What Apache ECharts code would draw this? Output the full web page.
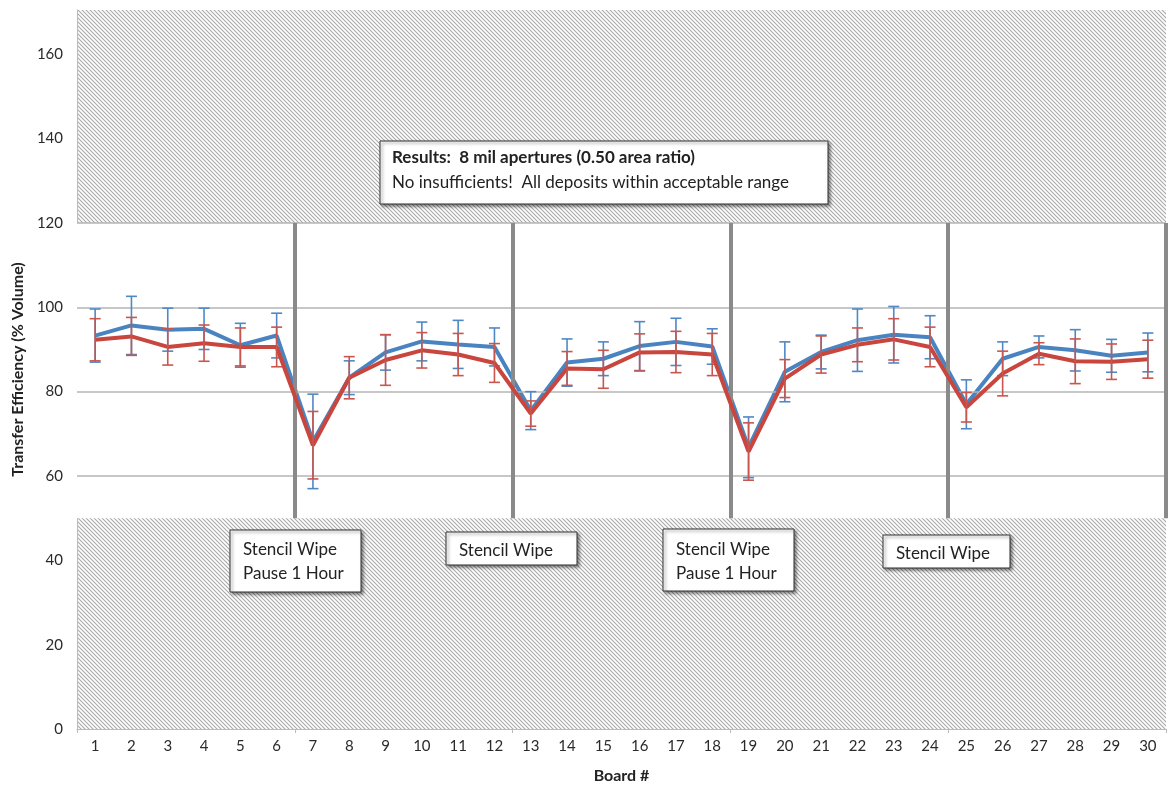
<!DOCTYPE html>
<html>
<head>
<meta charset="utf-8">
<script src="https://cdn.jsdelivr.net/npm/echarts@6/dist/echarts.min.js"></script>
<style>html,body{margin:0;padding:0;background:#fff;}#c{width:1170px;height:789px;}</style>
</head>
<body>
<div id="c"></div>
<script>
const boards = ['1','2','3','4','5','6','7','8','9','10','11','12','13','14','15','16','17','18','19','20','21','22','23','24','25','26','27','28','29','30'];
const blueMean = [93.3, 95.7, 94.7, 94.9, 91.0, 93.3, 68.2, 83.3, 89.3, 91.9, 91.2, 90.6, 75.5, 86.9, 87.8, 90.8, 91.8, 90.7, 66.8, 84.7, 89.4, 92.2, 93.5, 92.9, 77.0, 87.8, 90.6, 89.8, 88.5, 89.3];
const redMean  = [92.3, 93.1, 90.6, 91.5, 90.6, 90.6, 67.3, 83.3, 87.5, 89.8, 88.8, 86.8, 74.8, 85.5, 85.3, 89.3, 89.4, 88.8, 65.8, 83.1, 88.8, 91.1, 92.4, 90.6, 76.3, 84.3, 89.0, 87.2, 87.1, 87.7];
const blueErr  = [6.3, 6.9, 5.1, 4.9, 5.2, 5.3, 11.2, 4.0, 4.2, 4.6, 5.7, 4.5, 4.5, 5.6, 4.0, 5.8, 5.6, 4.2, 7.2, 7.1, 4.0, 7.4, 6.7, 5.1, 5.8, 4.0, 2.6, 4.9, 3.9, 4.6];
const redErr   = [5.0, 4.5, 4.3, 4.3, 4.5, 4.7, 8.0, 5.0, 6.0, 4.2, 5.0, 4.6, 3.0, 4.0, 4.5, 4.4, 4.9, 5.0, 6.8, 4.5, 4.4, 4.0, 4.9, 4.7, 3.5, 5.3, 2.6, 5.3, 4.2, 4.5];
const yTicks = [0, 20, 40, 60, 80, 100, 120, 140, 160];
const gridValues = [60, 80, 100, 120];
const separators = [6.5, 12.5, 18.5, 24.5, 30.5];
const bandLow = 50, bandHigh = 120;

const FONT = 'Lato, "Open Sans", sans-serif';

// hatch pattern
const pc = document.createElement('canvas');
pc.width = 4; pc.height = 4;
const g = pc.getContext('2d');
g.fillStyle = '#ffffff'; g.fillRect(0,0,4,4);
g.strokeStyle = '#a8a8a8'; g.lineWidth = 1.1;
g.beginPath();
g.moveTo(-1,-1); g.lineTo(5,5);
g.moveTo(-1,3); g.lineTo(1,5);
g.moveTo(3,-1); g.lineTo(5,1);
g.stroke();

function errData(mean, err){ return mean.map((m,i)=>[i, m-err[i], m+err[i]]); }
function errRender(color){
  return function(params, api){
    const x = api.value(0);
    const hi = api.coord([x, api.value(2)]);
    const lo = api.coord([x, api.value(1)]);
    const w = 5.5;
    const st = {stroke: color, lineWidth: 1.6};
    return {type:'group', children:[
      {type:'line', shape:{x1:hi[0],y1:hi[1],x2:lo[0],y2:lo[1]}, style:st},
      {type:'line', shape:{x1:hi[0]-w,y1:hi[1],x2:hi[0]+w,y2:hi[1]}, style:st},
      {type:'line', shape:{x1:lo[0]-w,y1:lo[1],x2:lo[0]+w,y2:lo[1]}, style:st}
    ]};
  };
}

const BLUE = '#4a84c0', RED = '#c8463e';

const boxStyle = {fill:'#fff', stroke:'#333', lineWidth:1, shadowBlur:3, shadowColor:'rgba(0,0,0,0.45)', shadowOffsetX:2, shadowOffsetY:2};
function box(x,y,w,h){ return {type:'rect', shape:{x:x,y:y,width:w,height:h}, style:boxStyle, z:100}; }
function txt(x,y,s,bold){ return {type:'text', x:x, y:y, style:{text:s, font:(bold?'bold ':'')+'17px '+FONT, fill:'#222', textVerticalAlign:'middle'}, z:101}; }

const chart = echarts.init(document.getElementById('c'));
chart.setOption({
  animation:false,
  backgroundColor:'#fff',
  grid:{left:77, right:4, top:10, bottom:57, show:true, backgroundColor:{image:pc, repeat:'repeat'}, borderWidth:0},
  xAxis:[
    {type:'category', data:boards, boundaryGap:true,
     axisLine:{show:true, lineStyle:{color:'#bbbbbb', width:1}},
     axisTick:{show:true, interval:5, length:4, lineStyle:{color:'#bbbbbb'}},
     axisLabel:{color:'#2a2a2a', fontFamily:FONT, fontSize:15, margin:10},
     name:'Board #', nameLocation:'middle', nameGap:39,
     nameTextStyle:{color:'#222', fontFamily:FONT, fontWeight:'bold', fontSize:16}},
    {type:'value', min:0.5, max:30.5, show:false}
  ],
  yAxis:{type:'value', min:0, max:170.5, interval:20,
    axisLine:{show:true, lineStyle:{color:'#bbbbbb', width:1}},
    axisTick:{show:false},
    splitLine:{show:false},
    axisLabel:{color:'#2a2a2a', fontFamily:FONT, fontSize:15, margin:14, showMaxLabel:false,
      formatter:function(v){ return yTicks.indexOf(v)>=0 ? String(v) : ''; }},
    name:'Transfer Efficiency (% Volume)', nameLocation:'middle', nameGap:51,
    nameTextStyle:{color:'#222', fontFamily:FONT, fontWeight:'bold', fontSize:16}},
  series:[
    {type:'line', xAxisIndex:1, data:[], z:1, silent:true,
     markArea:{silent:true, itemStyle:{color:'#ffffff'}, data:[[{coord:[0.5,bandLow]},{coord:[30.5,bandHigh]}]]}},
    {type:'line', xAxisIndex:1, data:[], z:2, silent:true,
     markLine:{silent:true, symbol:'none', label:{show:false},
       lineStyle:{color:'#b4b4b4', width:1.5, type:'solid'},
       data: gridValues.map(v=>[{coord:[0.5,v]},{coord:[30.5,v]}])}},
    {type:'line', xAxisIndex:1, data:[], z:3, silent:true,
     markLine:{silent:true, symbol:'none', label:{show:false},
       lineStyle:{color:'#8a8a8a', width:4, type:'solid'},
       data: separators.map(v=>[{coord:[v,bandLow]},{coord:[v,bandHigh]}])}},
    {type:'line', name:'blue', data:blueMean, symbol:'none', z:4, lineStyle:{color:BLUE, width:4}, itemStyle:{color:BLUE}},
    {type:'custom', data:errData(blueMean, blueErr), renderItem:errRender('#4f88c4'), z:5, encode:{x:0,y:[1,2]}},
    {type:'line', name:'red', data:redMean, symbol:'none', z:6, lineStyle:{color:RED, width:4}, itemStyle:{color:RED}},
    {type:'custom', data:errData(redMean, redErr), renderItem:errRender('#c8564e'), z:7, encode:{x:0,y:[1,2]}}
  ],
  graphic:[
    box(380,141,448,63), txt(392,158,'Results:  8 mil apertures (0.50 area ratio)',true), txt(392,183,'No insufficients!  All deposits within acceptable range',false),
    box(230,530,131,62), txt(243,550,'Stencil Wipe'), txt(243,574,'Pause 1 Hour'),
    box(446,532,131,33), txt(459,551,'Stencil Wipe'),
    box(663,529,131,62), txt(676,550,'Stencil Wipe'), txt(676,574,'Pause 1 Hour'),
    box(883,535,127,33), txt(896,554,'Stencil Wipe')
  ]
});
</script>
</body>
</html>
